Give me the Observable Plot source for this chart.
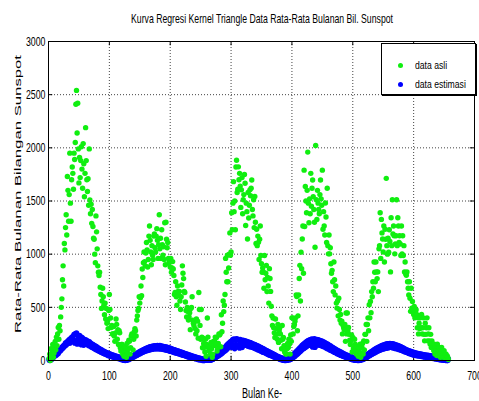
<!DOCTYPE html>
<html><head><meta charset="utf-8">
<script src="https://cdn.jsdelivr.net/npm/d3@7"></script>
<script src="https://cdn.jsdelivr.net/npm/@observablehq/plot@0.6"></script>
<style>
body{margin:0;background:#fff;}
#chart{position:relative;width:479px;height:401px;}
#chart svg{font-family:"Liberation Sans",Arial,sans-serif;}
#legend{position:absolute;left:381px;top:43px;width:93px;height:50px;background:#fff;border:1px solid #000;box-shadow:1px 1px 0 #000;font-family:"Liberation Sans",Arial,sans-serif;font-size:11.5px;color:#000;}
#legend .row{position:absolute;left:0;height:14px;line-height:14px;white-space:nowrap;}
#legend .dot{position:absolute;left:16px;top:5px;width:5px;height:5px;border-radius:50%;}
#legend .lab{position:absolute;left:33px;top:0;transform:scaleX(0.75);transform-origin:0 50%;}
</style>
</head><body><div id="chart"></div>
<script>
// ---- data ----
const titleText = "Kurva Regresi Kernel Triangle Data Rata-Rata Bulanan Bil. Sunspot";
const xLabel = "Bulan Ke-";
const yLabel = "Rata-Rata Bulanan Bilangan Sunspot";
const seriesNames = ["data asli", "data estimasi"];
const xTicks = [0, 100, 200, 300, 400, 500, 600, 700];
const yTicks = [0, 500, 1000, 1500, 2000, 2500, 3000];

// data asli (green), month 1..657
const dataAsli = [
20,60,0,110,40,90,150,30,70,120,
180,100,220,140,250,310,200,330,280,410,
500,580,760,890,700,1100,1040,1250,1370,1180,
1730,1600,1310,1560,1950,1480,1310,1700,1820,1760,
1610,1950,1890,2050,2410,2540,2140,2420,1990,1670,
1910,1720,1880,2010,1800,1620,2040,1850,1540,1760,
2190,1880,1700,1590,1710,1460,1990,1510,1380,1470,
1290,1420,1260,1150,1140,1000,920,1360,1210,1050,
890,830,800,830,690,620,490,560,680,600,
520,430,540,390,490,350,370,300,470,620,
480,400,310,330,250,250,320,230,180,260,
390,340,200,290,150,280,260,120,90,150,
150,60,110,40,90,130,90,30,160,70,
110,190,180,60,120,230,250,240,100,200,
270,300,280,230,380,420,470,490,600,540,
590,700,610,860,780,920,1020,930,890,1010,
1110,1040,880,950,1170,1265,1130,1020,900,1080,
990,950,1170,1190,1060,1020,1170,1240,1130,960,
1090,1370,1050,1150,960,1230,1090,990,1070,950,
1296,900,1300,1140,1060,1110,960,920,930,880,
960,830,870,930,860,800,620,640,740,600,
520,700,650,610,650,560,480,600,710,890,
820,770,650,640,550,470,410,500,460,380,
410,450,290,490,500,600,380,350,330,370,
300,250,390,280,370,210,640,480,330,200,
480,220,120,210,160,125,80,200,40,150,
400,220,120,90,130,60,170,110,30,60,
180,140,185,220,150,216,90,120,160,250,
240,250,130,430,270,350,560,460,520,620,
960,830,740,990,740,870,1000,1200,990,1020,
1390,1230,1480,1682,1400,1500,1230,1820,1883,1580,
1610,1821,1700,1760,1640,1440,1605,1720,1380,1512,
1560,1750,1667,1270,1480,1400,1142,1580,1340,1460,
1605,1550,1620,1698,1420,1360,1512,1250,1543,1300,
1100,1234,1080,1170,1111,950,1140,1265,987,910,
830,870,833,679,987,760,820,895,648,780,
700,540,864,771,650,510,420,330,400,308,
260,216,390,300,246,200,340,170,280,308,
250,190,110,330,200,216,140,80,123,60,
62,110,160,123,200,154,60,240,180,401,
401,250,320,339,370,401,617,601,280,420,
617,771,895,560,1019,864,1142,1265,820,1790,
1260,1636,1500,1389,1600,1960,1480,1296,1520,1380,
1760,1450,1620,1698,1540,1420,1300,1065,2022,1512,
1327,1600,1480,1420,1380,1560,1698,1520,1460,1790,
1234,1400,1265,1180,1481,1350,1110,1620,1080,1003,
1180,1003,1060,910,820,848,740,648,926,760,
617,700,540,493,560,420,586,480,380,432,
350,370,250,330,308,290,339,180,447,250,
447,280,310,246,190,150,185,240,80,216,
110,123,200,154,90,60,130,62,40,93,
120,154,30,70,123,160,60,185,100,246,
246,339,180,339,401,280,524,401,555,450,
648,600,740,680,926,830,740,926,833,770,
833,648,1050,1080,1389,960,1327,1200,1142,1020,
1265,926,1234,1140,1713,1080,1000,1150,1019,1230,
1120,833,1343,1080,1512,1190,1265,1173,1003,1096,
1173,1512,1080,1343,1265,1111,1173,1096,987,1265,
1003,1173,987,1080,833,926,817,802,833,740,
679,617,740,586,462,679,493,555,478,432,
509,401,462,478,432,308,401,250,350,300,
401,308,432,250,308,401,246,185,350,246,
308,401,185,250,308,185,154,246,123,185,
154,123,93,154,62,123,93,46,154,62,
93,123,62,30,93,123,46,62,30,93,
46,30,62,20,46,30,10
];

// data estimasi (blue), month 1..657
const dataEstimasi = [
8,0,15,22,10,30,25,40,35,48,
45,60,52,70,78,65,90,85,102,95,
115,108,128,120,140,132,150,165,145,170,
160,182,175,195,162,205,180,215,185,225,
195,245,165,250,180,258,155,235,195,160,
235,170,220,148,215,175,205,145,195,155,
195,160,185,150,180,142,175,138,165,130,
155,122,150,118,140,110,135,104,128,98,
120,92,112,86,105,80,100,75,92,68,
86,64,80,58,75,54,70,48,65,44,
60,42,56,38,52,34,48,30,45,28,
40,26,36,20,33,18,30,14,25,10,
20,6,16,3,12,0,10,2,15,6,
20,10,26,16,32,22,40,28,46,34,
52,40,60,46,66,52,72,58,80,64,
86,70,92,76,98,82,104,86,110,90,
114,94,120,98,124,100,128,104,132,106,
134,108,136,110,138,112,137,112,140,110,
137,112,140,108,136,110,134,106,132,104,
130,102,126,98,124,96,120,92,117,88,
112,86,108,82,104,78,100,74,96,70,
92,68,88,64,84,60,80,56,76,52,
72,50,68,46,64,42,60,38,56,34,
52,32,48,28,44,25,40,22,36,20,
32,16,29,13,26,10,22,8,20,6,
17,4,14,1,12,0,10,2,14,4,
12,3,16,5,14,2,20,7,26,12,
32,18,40,26,48,33,57,40,66,48,
75,56,85,64,95,74,107,84,118,92,
130,102,142,112,155,122,165,130,176,140,
184,122,196,140,202,112,192,150,205,130,
200,140,190,118,196,150,182,122,190,140,
188,148,183,145,180,140,176,136,172,132,
168,130,163,126,158,122,153,118,149,112,
143,108,138,102,133,98,127,92,121,86,
115,80,109,76,103,72,97,66,91,60,
85,55,79,50,73,45,67,40,61,35,
55,30,49,26,43,22,38,18,32,14,
28,10,24,6,20,3,16,0,12,0,
10,2,14,4,20,8,28,12,38,20,
48,28,58,36,70,46,82,56,94,66,
106,78,118,88,130,98,142,108,152,116,
162,124,172,132,180,140,188,144,192,150,
198,142,202,128,194,158,204,124,190,152,
198,150,194,147,190,144,186,140,182,136,
176,132,170,126,164,120,158,114,152,108,
144,102,138,96,130,90,122,84,114,78,
108,72,100,66,94,60,88,56,82,50,
76,46,70,40,64,36,58,32,52,28,
48,24,44,20,40,16,36,12,32,8,
28,6,24,3,20,2,16,0,12,0,
10,2,16,6,22,10,28,14,36,20,
44,26,52,34,60,42,68,48,76,54,
84,60,92,68,100,74,108,80,114,86,
120,92,126,96,132,102,138,106,142,110,
146,112,150,116,154,118,157,120,158,122,
160,124,158,122,156,120,154,118,150,114,
146,112,142,108,138,104,134,100,128,96,
122,92,116,86,110,82,104,78,98,72,
94,68,90,64,86,60,82,56,78,52,
74,52,70,48,68,46,66,44,62,42,
60,40,58,38,56,36,54,34,52,32,
50,30,48,28,46,26,44,24,42,22,
40,20,38,18,36,16,34,14,32,12,
30,10,28,8,26,6,24,4,22,3,
20,2,18,1,16,0,14
];

const colors = ["#10ee10", "#0000ff"];

const asli = dataAsli.map((v, i) => ({bulan: i + 1, nilai: v}));
const estimasi = dataEstimasi.map((v, i) => ({bulan: i + 1, nilai: v}));

const tickLenX = 40;  // inward tick length in y units
const tickLenY = 7;   // inward tick length in x units

const plot = Plot.plot({
  width: 479,
  height: 401,
  marginLeft: 48,
  marginRight: 5,
  marginTop: 41,
  marginBottom: 41,
  style: {fontFamily: "Liberation Sans, Arial, sans-serif", fontSize: "13.5px", background: "#fff", color: "#000", overflow: "visible"},
  x: {domain: [0, 700], ticks: xTicks, tickSize: 0, tickPadding: 10, label: null, tickFormat: d => String(d)},
  y: {domain: [0, 3000], ticks: yTicks, tickSize: 0, tickPadding: 3, label: null, tickFormat: d => String(d)},
  marks: [
    Plot.ruleX(xTicks, {stroke: "#444", strokeWidth: 1, strokeDasharray: "1,2"}),
    Plot.ruleY(yTicks, {stroke: "#444", strokeWidth: 1, strokeDasharray: "1,2"}),
    Plot.ruleX(xTicks, {y1: 0, y2: tickLenX, stroke: "#000"}),
    Plot.ruleX(xTicks, {y1: 3000 - tickLenX, y2: 3000, stroke: "#000"}),
    Plot.ruleY(yTicks, {x1: 0, x2: tickLenY, stroke: "#000"}),
    Plot.ruleY(yTicks, {x1: 700 - tickLenY, x2: 700, stroke: "#000"}),
    Plot.dot(estimasi, {x: "bulan", y: "nilai", r: 2.8, fill: colors[1], stroke: "none"}),
    Plot.dot(asli, {x: "bulan", y: "nilai", r: 2.7, fill: colors[0], stroke: "none"}),
    Plot.frame({stroke: "#000", strokeWidth: 1})
  ]
});

const chart = document.getElementById("chart");
chart.appendChild(plot);
const svg = d3.select(plot);

// condense axis tick labels horizontally (reference text is narrow)
svg.selectAll("text").each(function() {
  const L = this.getComputedTextLength();
  if (L > 0) {
    this.setAttribute("textLength", (L * 0.65).toFixed(2));
    this.setAttribute("lengthAdjust", "spacingAndGlyphs");
  }
});

// text placed at (x, y) and condensed horizontally to the given width
function addText(str, x, y, size, width, anchor, rotate) {
  const t = svg.append("text")
    .attr("font-family", "Liberation Sans, Arial, sans-serif")
    .attr("font-size", size)
    .attr("fill", "#000")
    .attr("text-anchor", anchor)
    .text(str);
  const L = t.node().getComputedTextLength();
  if (rotate) {
    t.attr("transform", `translate(${x},${y}) scale(0.65,1) rotate(-90)`)
     .attr("textLength", width).attr("lengthAdjust", "spacingAndGlyphs");
  } else {
    t.attr("transform", `translate(${x},${y}) scale(${(width / L).toFixed(4)},1)`);
  }
  return t;
}

// title & axis labels
addText(titleText, 262, 23, 12.8, 262, "middle");
addText(xLabel, 262, 398, 14, 40, "middle");
addText(yLabel, 21, 194, 14.5, 278, "middle", true);

// legend (HTML overlay)
const legend = d3.select(chart).append("div").attr("id", "legend");
seriesNames.forEach((name, i) => {
  const row = legend.append("div").attr("class", "row").style("top", (14 + i * 19) + "px").style("width", "92px");
  row.append("div").attr("class", "dot").style("background", colors[i]);
  row.append("span").attr("class", "lab").text(name);
});
</script>
</body></html>
